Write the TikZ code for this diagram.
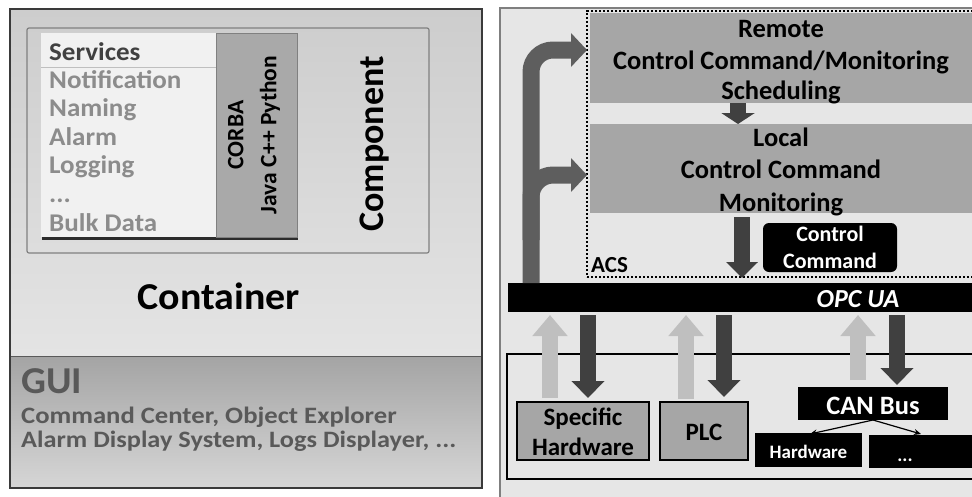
\documentclass[tikz,border=0pt]{standalone}
\usepackage{graphicx}
\usepackage{fontspec}
\setmainfont{Carlito}
\usetikzlibrary{arrows.meta,shadows}
\definecolor{contA}{HTML}{CDCDCD}
\definecolor{contB}{HTML}{E4E4E4}
\definecolor{guiA}{HTML}{A4A4A4}
\definecolor{guiB}{HTML}{D6D6D6}
\definecolor{svcfill}{HTML}{F1F1F1}
\definecolor{svchead}{HTML}{404040}
\definecolor{svcitem}{HTML}{8C8C8C}
\definecolor{corbafill}{HTML}{A9A9A9}
\definecolor{frameline}{HTML}{3A3A3A}
\definecolor{compline}{HTML}{808080}
\definecolor{guitext}{HTML}{595959}
\definecolor{rbg}{HTML}{E6E6E6}
\definecolor{rline}{HTML}{7F7F7F}
\definecolor{boxgray}{HTML}{A6A6A6}
\definecolor{darkarr}{HTML}{404040}
\definecolor{lightarr}{HTML}{BFBFBF}
\definecolor{bigarr}{HTML}{5E5E5E}
\newcommand{\fsz}[2]{\fontsize{#1}{#2}\selectfont}
\newcommand{\threedots}{...}
\newcommand{\wide}[2][1.07]{\scalebox{#1}[1]{#2}}
\begin{document}
\begin{tikzpicture}[x=1pt,y=-1pt,
  blk/.style={anchor=north west, inner sep=0pt, outer sep=0pt},
  lbl/.style={inner sep=0pt, font=\bfseries},
  darr/.style={draw=darkarr, line width=16pt, -{Triangle[length=17pt,width=32pt]}},
  larr/.style={draw=lightarr, line width=16pt, -{Triangle[length=21pt,width=34pt]}},
  bigL/.style={draw=bigarr, line width=17pt, rounded corners=22pt, -{Triangle[length=16pt,width=33pt]}},
  blackbox/.style={blk, fill=black},
]
\useasboundingbox (0,0) rectangle (972,496);
\clip (0,0) rectangle (972,496);

% ---------------- left panel ----------------
\node[blk, minimum width=472pt, minimum height=347pt,
      top color=contA, middle color=contA, bottom color=contB] (cont) at (10,9) {};
\node[blk, minimum width=472pt, minimum height=132pt,
      top color=guiA, middle color=guiA, bottom color=guiB] (gui) at (10,356) {};
\draw[compline!70!black, line width=1pt] (gui.north west) -- (gui.north east);
\draw[frameline, line width=1.6pt] (cont.north west) rectangle (gui.south east);

\node[blk, draw=compline, line width=1.2pt, rounded corners=2pt,
      minimum width=402pt, minimum height=225pt] (comp) at (27,28) {};
\node[blk, fill=svcfill, minimum width=175pt, minimum height=204pt,
      drop shadow={shadow xshift=1pt, shadow yshift=-3pt, fill=black, opacity=.8}] (svc) at (41,33) {};
\node[blk, fill=corbafill, draw=compline, line width=.8pt, minimum width=81pt, minimum height=204pt,
      drop shadow={shadow xshift=1pt, shadow yshift=-3pt, fill=black, opacity=.8}] (corba) at (216,33) {};
\draw[lightarr, line width=1pt] (svc.west |- 0,67) coordinate (sepl) -- (svc.east |- sepl);

\node[lbl, anchor=base west, text=svchead, font=\bfseries\fsz{25.5}{28}] (s0) at (49,60) {\wide[1.06]{Services}};
\foreach \t/\y [count=\i] in {Notification/88, Naming/116.5, Alarm/145, Logging/173.5, \threedots/202, Bulk Data/231}
  \node[lbl, anchor=base west, text=svcitem, font=\bfseries\fsz{25.5}{28}] (s\i) at (49,\y) {\wide[1.06]{\t}};

\node[lbl, rotate=90, align=center, font=\bfseries\fsz{23.5}{33}] (corbat) at (254,135)
  {CORBA\\Java C++ Python};
\node[lbl, rotate=90, font=\bfseries\fsz{36}{40}] (compt) at (375,144) {Component};
\node[lbl, font=\bfseries\fsz{38}{44}] (contt) at (219,296) {\wide[1.05]{Container}};

\node[lbl, anchor=base west, text=guitext, font=\bfseries\fsz{38}{40}] (guit) at (21,393) {\wide[1.03]{GUI}};
\node[lbl, anchor=base west, text=guitext, font=\bfseries\fsz{23.5}{24}] (gui1) at (21,423) {\wide[1.135]{Command Center, Object Explorer}};
\node[lbl, anchor=base west, text=guitext, font=\bfseries\fsz{23.5}{24}] (gui2) at (21,447) {\wide[1.12]{Alarm Display System, Logs Displayer, \threedots}};

% ---------------- right panel ----------------
\node[blk, fill=rbg, draw=rline, line width=1.2pt, minimum width=490pt, minimum height=500pt] (rp) at (500,8) {};
\node[blk, fill=boxgray, minimum width=382pt, minimum height=90pt] (remote) at (590,13) {};
\node[blk, fill=boxgray, minimum width=382pt, minimum height=89pt] (local) at (590,124) {};
\node[blk, draw=black, line width=2.2pt, dash pattern=on 2.2pt off 1.8pt,
      minimum width=410pt, minimum height=266pt] (acs) at (587,11) {};

\foreach \t/\y [count=\i] in {Remote/37, Control Command\slash Monitoring/69, Scheduling/99}
  \node[lbl, anchor=base, font=\bfseries\fsz{26.5}{30}] (rt\i) at (781,\y) {\t};
\foreach \t/\y [count=\i] in {Local/146, Control Command/178, Monitoring/211}
  \node[lbl, anchor=base, font=\bfseries\fsz{26.5}{30}] (lt\i) at (781,\y) {\t};

\node[lbl, anchor=base west, font=\bfseries\fsz{23}{26}] (acst) at (591,272) {ACS};

\node[blackbox, rounded corners=6pt, minimum width=134pt, minimum height=49pt] (ctrl) at (763,223) {};
\node[lbl, anchor=base, text=white, font=\bfseries\fsz{22}{26}] (ctrl1) at (ctrl.center |- 0,241) {Control};
\node[lbl, anchor=base, text=white, font=\bfseries\fsz{22}{26}] (ctrl2) at (ctrl.center |- 0,268) {Command};

\node[blackbox, minimum width=470pt, minimum height=29pt] (opc) at (508,283) {};
\node[lbl, anchor=base, text=white, font=\bfseries\itshape\fsz{26}{30}] (opct) at (858,307) {OPC UA};

\node[blk, draw=black, line width=1.2pt, minimum width=480pt, minimum height=125pt] (hwf) at (507,354) {};

\node[blk, fill=boxgray, draw=black, line width=1.2pt, minimum width=132pt, minimum height=58pt] (spec) at (517,402) {};
\node[lbl, anchor=base, font=\bfseries\fsz{25}{28}] (spec1) at (spec.center |- 0,425) {Specific};
\node[lbl, anchor=base, font=\bfseries\fsz{25}{28}] (spec2) at (spec.center |- 0,455) {Hardware};
\node[blk, fill=boxgray, draw=black, line width=1.2pt, minimum width=88pt, minimum height=58pt] (plc) at (660,402) {};
\node[lbl, anchor=base, font=\bfseries\fsz{25}{28}] (plct) at (plc.center |- 0,440) {PLC};

\node[blackbox, minimum width=150pt, minimum height=33pt] (can) at (798,387) {};
\node[lbl, anchor=base, text=white, font=\bfseries\fsz{26.5}{30}] (cant) at (can.center |- 0,414) {CAN Bus};
\node[blackbox, minimum width=107pt, minimum height=34pt] (hw) at (755,433) {};
\node[lbl, anchor=base, text=white, font=\bfseries\fsz{19}{22}] (hwt) at (hw.center |- 0,458) {Hardware};
\node[blackbox, minimum width=110pt, minimum height=33pt] (more) at (869,435) {};
\node[lbl, anchor=base, text=white, font=\bfseries\fsz{19}{22}] (moret) at (905,461) {\threedots};

% ---------------- arrows ----------------
\coordinate (xr) at (738,0);
\coordinate (xl) at (742,0);
\draw[darr, -{Triangle[length=11pt,width=33pt]}] (remote.south -| xr) -- (local.north -| xr);
\draw[darr, -{Triangle[length=16pt,width=31pt]}, shorten <=4pt, shorten >=5pt] (local.south -| xl) -- (opc.north -| xl);

\coordinate (xv) at (531,0);
\draw[bigL] (opc.north -| xv) -- (531,50) -- (acs.west |- 0,50);
\draw[bigL] (531,240) -- (531,175) -- (acs.west |- 0,175);

\coordinate (a1) at (550,0);  \coordinate (b1) at (588,0);
\coordinate (a2) at (686,0);  \coordinate (b2) at (724,0);
\coordinate (a3) at (858,0);  \coordinate (b3) at (897,0);
\draw[larr, shorten <=4pt, shorten >=3pt] (spec.north -| a1) -- (opc.south -| a1);
\draw[darr, shorten <=3pt, shorten >=4pt] (opc.south -| b1) -- (spec.north -| b1);
\draw[larr, shorten <=3pt, shorten >=3pt] (plc.north -| a2) -- (opc.south -| a2);
\draw[darr, shorten <=3pt, shorten >=5pt] (opc.south -| b2) -- (plc.north -| b2);
\draw[larr, shorten <=7pt, shorten >=3pt] (can.north -| a3) -- (opc.south -| a3);
\draw[darr, shorten <=3pt, shorten >=2pt] (opc.south -| b3) -- (can.north -| b3);

\coordinate (hwtop) at (810,434);
\coordinate (moretop) at (921,434);
\draw[black, line width=1.2pt, -{Stealth[length=7pt,width=6pt]}] (can.south) -- (hwtop);
\draw[black, line width=1.2pt, -{Stealth[length=7pt,width=6pt]}] (can.south) -- (moretop);
\end{tikzpicture}
\end{document}
